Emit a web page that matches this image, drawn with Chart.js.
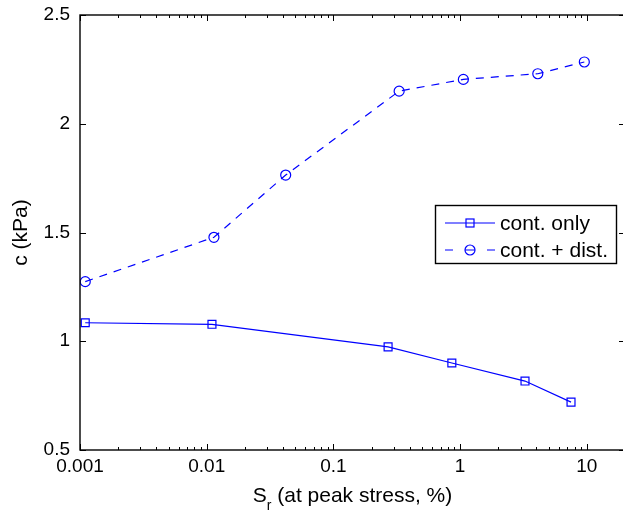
<!DOCTYPE html>
<html><head><meta charset="utf-8">
<script src="https://cdn.jsdelivr.net/npm/chart.js@4"></script>
<style>html,body{margin:0;padding:0;overflow:hidden;background:#fff}canvas{display:block}</style>
</head><body>
<canvas id="c" width="632" height="513"></canvas>
<script>
// ---- data ----
const xTickValues = [0.001, 0.01, 0.1, 1, 10];
const xTickLabels = ['0.001', '0.01', '0.1', '1', '10'];
const yTickValues = [0.5, 1, 1.5, 2, 2.5];
const yTickLabels = ['0.5', '1', '1.5', '2', '2.5'];
const seriesNames = ['cont. only', 'cont. + dist.'];
const srContOnly = [0.0011, 0.011, 0.27, 0.86, 3.25, 7.5];
const cContOnly  = [1.085, 1.078, 0.974, 0.900, 0.817, 0.720];
const srContDist = [0.0011, 0.0114, 0.042, 0.33, 1.06, 4.1, 9.55];
const cContDist  = [1.274, 1.478, 1.764, 2.150, 2.204, 2.230, 2.284];
const xTitleMain = 'S', xTitleSub = 'r', xTitleRest = ' (at peak stress, %)';
const yTitle = 'c (kPa)';

const FONT = '"Liberation Sans", Arial, Helvetica, sans-serif';
const BLUE = 'rgb(0,0,255)';

function labelFor(vals, labels, v) {
  for (let i = 0; i < vals.length; i++) if (Math.abs(vals[i] - v) < 1e-9 * Math.max(1, vals[i])) return labels[i];
  return '';
}

const framePlugin = {
  id: 'frame',
  afterDraw(chart) {
    const {ctx, chartArea: a, scales: {x, y}} = chart;
    ctx.save();
    ctx.strokeStyle = '#000';
    ctx.lineWidth = 1.4;
    ctx.strokeRect(a.left, a.top, a.right - a.left, a.bottom - a.top);
    ctx.lineWidth = 1;
    ctx.beginPath();
    // x ticks (major + minor), bottom and top, inward
    for (const d of xTickValues) {
      for (let m = 1; m <= 9; m++) {
        const v = d * m;
        if (v > x.max * 1.0001) break;
        const px = Math.round(x.getPixelForValue(v)) + 0.5;
        const len = m === 1 ? 6 : 3;
        ctx.moveTo(px, a.bottom); ctx.lineTo(px, a.bottom - len);
        ctx.moveTo(px, a.top); ctx.lineTo(px, a.top + len);
      }
    }
    for (const v of yTickValues) {
      const py = Math.round(y.getPixelForValue(v)) + 0.5;
      ctx.moveTo(a.left, py); ctx.lineTo(a.left + 6, py);
      ctx.moveTo(a.right, py); ctx.lineTo(a.right - 6, py);
    }
    ctx.stroke();

    // axis titles
    ctx.fillStyle = '#000';
    ctx.font = '21px ' + FONT;
    ctx.textBaseline = 'alphabetic';
    const wS = ctx.measureText(xTitleMain).width;
    const wR = ctx.measureText(xTitleRest).width;
    ctx.font = '14px ' + FONT;
    const wSub = ctx.measureText(xTitleSub).width;
    const total = wS + wSub + wR;
    let sx = (a.left + a.right) / 2 - total / 2;
    const base = 502;
    ctx.font = '21px ' + FONT;
    ctx.textAlign = 'left';
    ctx.fillText(xTitleMain, sx, base);
    ctx.font = '14px ' + FONT;
    ctx.fillText(xTitleSub, sx + wS, base + 8);
    ctx.font = '21px ' + FONT;
    ctx.fillText(xTitleRest, sx + wS + wSub, base);

    ctx.save();
    ctx.translate(21, (a.top + a.bottom) / 2);
    ctx.rotate(-Math.PI / 2);
    ctx.textAlign = 'center';
    ctx.textBaseline = 'middle';
    ctx.fillText(yTitle, 0, 0);
    ctx.restore();

    // legend
    const L = 435.5, T = 205.5, W = 181, H = 58;
    ctx.fillStyle = '#fff';
    ctx.fillRect(L, T, W, H);
    ctx.strokeStyle = '#000';
    ctx.lineWidth = 1.4;
    ctx.strokeRect(L, T, W, H);
    const rows = [223, 250];
    ctx.strokeStyle = BLUE;
    ctx.lineWidth = 1.2;
    // row 1: solid line + square
    ctx.beginPath();
    ctx.moveTo(445, rows[0]); ctx.lineTo(495, rows[0]);
    ctx.stroke();
    ctx.strokeRect(466, rows[0] - 4, 8, 8);
    // row 2: dashed line + circle
    ctx.beginPath();
    ctx.moveTo(445, rows[1]); ctx.lineTo(453, rows[1]);
    ctx.moveTo(465, rows[1]); ctx.lineTo(475, rows[1]);
    ctx.moveTo(487, rows[1]); ctx.lineTo(495, rows[1]);
    ctx.stroke();
    ctx.beginPath();
    ctx.arc(470, rows[1], 5, 0, Math.PI * 2);
    ctx.stroke();
    ctx.fillStyle = '#000';
    ctx.font = '21px ' + FONT;
    ctx.textAlign = 'left';
    ctx.textBaseline = 'middle';
    ctx.fillText(seriesNames[0], 500, rows[0] + 1);
    ctx.fillText(seriesNames[1], 500, rows[1] + 1);
    ctx.restore();
  }
};

new Chart(document.getElementById('c').getContext('2d'), {
  type: 'line',
  data: {
    datasets: [
      {
        label: seriesNames[0],
        data: srContOnly.map((v, i) => ({x: v, y: cContOnly[i]})),
        borderColor: BLUE, borderWidth: 1.2,
        pointStyle: 'rect', pointRadius: 5.6,
        pointBorderColor: BLUE, pointBackgroundColor: 'rgba(0,0,0,0)', pointBorderWidth: 1.2,
        tension: 0, fill: false
      },
      {
        label: seriesNames[1],
        data: srContDist.map((v, i) => ({x: v, y: cContDist[i]})),
        borderColor: BLUE, borderWidth: 1.2, borderDash: [8, 7],
        pointStyle: 'circle', pointRadius: 5,
        pointBorderColor: BLUE, pointBackgroundColor: 'rgba(0,0,0,0)', pointBorderWidth: 1.2,
        tension: 0, fill: false
      }
    ]
  },
  options: {
    responsive: false, animation: false, devicePixelRatio: 1,
    layout: {padding: {left: 0, top: 15, right: 7, bottom: 0}},
    plugins: {legend: {display: false}, tooltip: {enabled: false}},
    scales: {
      x: {
        type: 'logarithmic', min: 0.001, max: 20,
        grid: {display: false, drawTicks: false}, border: {display: false},
        afterBuildTicks: s => { s.ticks = xTickValues.map(v => ({value: v, major: true})); },
        afterFit: s => { s.height = 63; s.paddingLeft = 0; s.paddingRight = 0; s.paddingTop = 0; s.paddingBottom = 0; },
        ticks: {
          autoSkip: false, maxRotation: 0, minRotation: 0, padding: 5, color: '#000',
          font: {family: FONT, size: 19},
          callback: v => labelFor(xTickValues, xTickLabels, v)
        }
      },
      y: {
        type: 'linear', min: 0.5, max: 2.5,
        grid: {display: false, drawTicks: false}, border: {display: false},
        afterBuildTicks: s => { s.ticks = yTickValues.map(v => ({value: v})); },
        afterFit: s => { s.width = 80; s.paddingLeft = 0; s.paddingRight = 0; s.paddingTop = 0; s.paddingBottom = 0; },
        ticks: {
          padding: 10, color: '#000',
          font: {family: FONT, size: 19},
          callback: v => labelFor(yTickValues, yTickLabels, v)
        }
      }
    }
  },
  plugins: [framePlugin]
});
</script>
</body></html>
